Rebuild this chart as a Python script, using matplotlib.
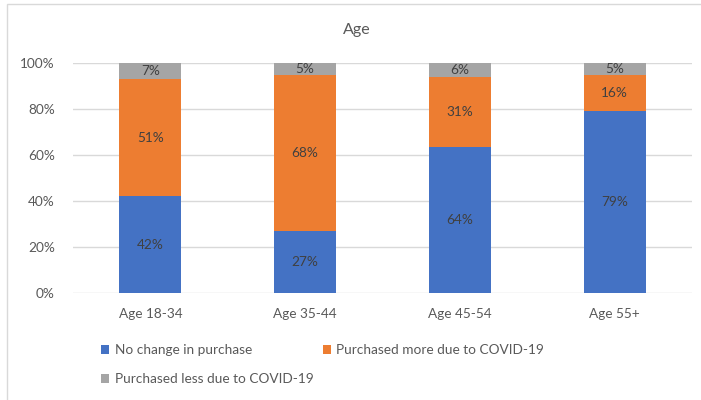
import matplotlib
matplotlib.use("Agg")
import matplotlib.pyplot as plt
import matplotlib.patches as mpatches
import numpy as np

categories = ["Age 18-34", "Age 35-44", "Age 45-54", "Age 55+"]
no_change = [42, 27, 64, 79]
more = [51, 68, 31, 16]
less = [7, 5, 6, 5]
series_names = ["No change in purchase", "Purchased more due to COVID-19",
                "Purchased less due to COVID-19"]
colors = ["#4472C4", "#ED7D31", "#A5A5A5"]
yticks = [0, 20, 40, 60, 80, 100]

plt.rcParams['font.family'] = ['Lato', 'DejaVu Sans']
txt = "#595959"

fig = plt.figure(figsize=(7.01, 4.00), dpi=100)
ax = fig.add_axes([73/701, 1-293/400, (692-73)/701, (293-63)/400])

data = np.array([no_change, more, less], dtype=float)
totals = data.sum(axis=0)
norm = data / totals * 100
x = np.arange(len(categories))
bottom = np.zeros(len(categories))
handles = []
for i in range(3):
    b = ax.bar(x, norm[i], 0.4, bottom=bottom, color=colors[i], zorder=3,
               label=series_names[i])
    handles.append(b)
    for j in range(len(categories)):
        ax.text(x[j], bottom[j] + norm[i][j]/2, f"{int(data[i][j])}%",
                ha="center", va="center", fontsize=9.8, color="#404040", zorder=4)
    bottom += norm[i]

ax.set_xlim(-0.5, len(categories)-0.5)
ax.set_ylim(0, 100)
ax.set_yticks(yticks)
ax.set_yticklabels([f"{v}%" for v in yticks])
ax.set_xticks(x)
ax.set_xticklabels(categories)
ax.tick_params(axis="y", length=0, pad=13, labelsize=9.8, labelcolor=txt)
ax.tick_params(axis="x", length=0, pad=11, labelsize=9.8, labelcolor=txt)
ax.grid(axis="y", color="#d9d9d9", linewidth=1, zorder=0)
for s in ax.spines.values():
    s.set_visible(False)

fig.text(357/701, 1-30/400, "Age", ha="center", va="center", fontsize=11.5, color=txt)

order = [0, 2, 1]
fig.legend(handles=[handles[k] for k in order],
           labels=[series_names[k] for k in order], ncol=2,
           loc="upper left", bbox_to_anchor=(101/701, 1-344/400),
           frameon=False, fontsize=9.8, labelcolor=txt,
           handlelength=0.6, handleheight=0.6, handletextpad=0.4,
           columnspacing=0.7, labelspacing=1.25, borderpad=0, borderaxespad=0)

fig.patches.append(mpatches.Rectangle((7/701, -0.1), 1.2, 1.1 - 4/400,
                                      transform=fig.transFigure, fill=False,
                                      edgecolor="#d9d9d9", linewidth=1))

fig.savefig("out.png", dpi=100)
